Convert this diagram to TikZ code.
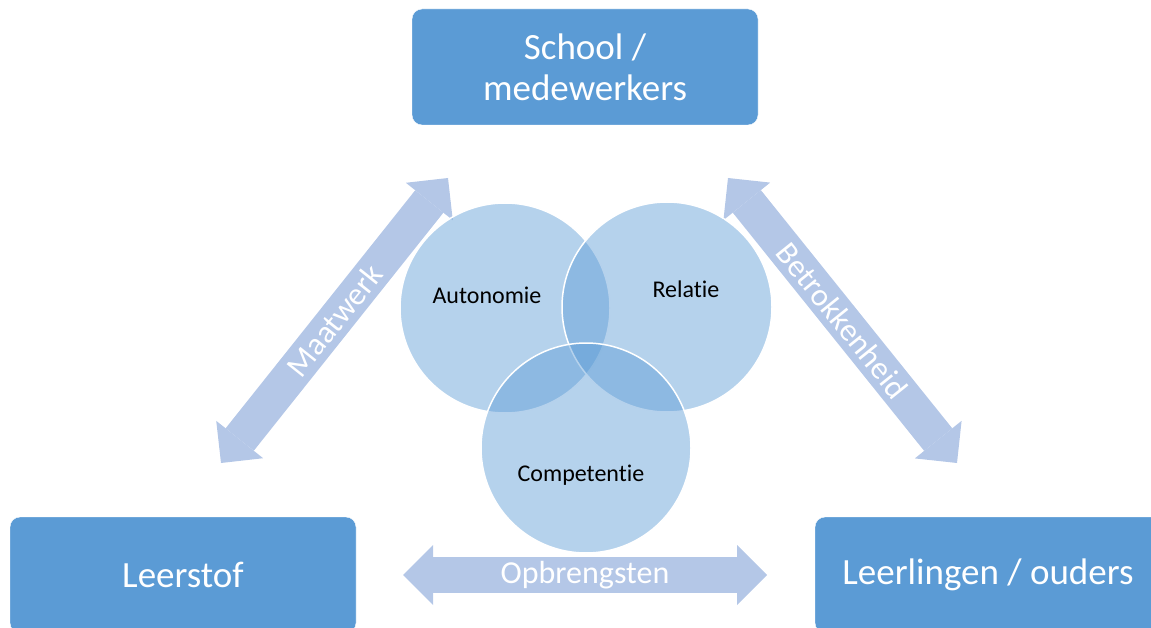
\documentclass[tikz,border=0pt]{standalone}
\usepackage{fontspec}
\setmainfont{Carlito}[Ligatures=NoCommon]
\usetikzlibrary{arrows.meta}
\definecolor{boxBlue}{HTML}{5B9BD5}
\definecolor{arrowBlue}{HTML}{B4C7E7}

\begin{document}
\begin{tikzpicture}
[x=1pt,y=-1pt,
  boxDecorate/.style={shape=rectangle,rounded corners=10pt,fill=boxBlue,draw=white,
    minimum width=346pt,minimum height=116pt,text=white,align=center,
    font=\fontsize{37}{41}\selectfont},
  circleDecorate/.style={shape=circle,minimum size=210pt,inner sep=0pt,fill=boxBlue,
    fill opacity=0.45,draw=white,draw opacity=1,line width=1.5pt},
  labelDecorate/.style={anchor=base,text=black,font=\fontsize{24}{29}\selectfont},
  fatTip/.tip={Triangle[length=30pt,width=60pt,line width=0pt]},
  arrowDecorate/.style={arrowBlue,line width=36pt,fatTip-fatTip},
  arrowText/.style={text=white,font=\fontsize{32}{38}\selectfont}]
\useasboundingbox (0,0) rectangle (1151,628);
%% ends of the big arrows
\foreach \cname/\x/\y in {maatA/221/463, maatB/448/178, betrokA/728/178,
  betrokB/957/463, opbrA/403/575, opbrB/767/575} {
  \coordinate (\cname) at (\x,\y);
}
%% big arrows
\path
\foreach \startnode/\endnode/\txt in {maatA/maatB/Maatwerk,
  betrokA/betrokB/Betrokkenheid, opbrA/opbrB/Opbrengsten} {
  (\startnode) edge[arrowDecorate] node[arrowText,sloped] {\txt} (\endnode)
};
%% circles
\foreach \nodename/\x/\y in {autonomie/505/308, relatie/667/307, competentie/586/448} {
  \node (\nodename) at (\x,\y) [circleDecorate] {};
}
\foreach \nodename/\x/\y/\txt in {autonomieText/487/304/Autonomie,
  relatieText/686/298/Relatie, competentieText/581/481/Competentie} {
  \node (\nodename) at (\x,\y) [labelDecorate] {\txt};
}
%% boxes
\node (school) at (585,67) [boxDecorate] {School /\\ medewerkers};
\node (leerstof) at (183,575) [boxDecorate] {Leerstof};
\node (leerlingen) at (988,575) [boxDecorate] {Leerlingen / ouders};
\end{tikzpicture}
\end{document}
